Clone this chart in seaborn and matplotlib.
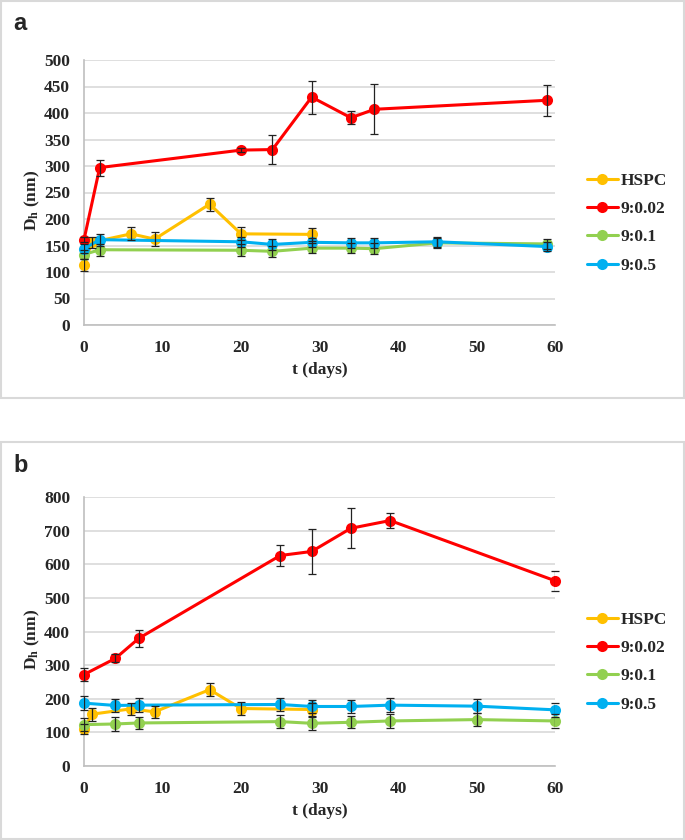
import matplotlib
matplotlib.use("Agg")
import matplotlib.pyplot as plt
import seaborn as sns
from matplotlib.patches import Rectangle
from matplotlib.lines import Line2D

# series names and colours
labels = ["HSPC", "9:0.02", "9:0.1", "9:0.5"]
colors = ["#FFC000", "#FF0000", "#92D050", "#00B0F0"]

# panel a - days, mean Dh, error
a_hspc_t = [0, 1, 6, 9, 16, 20, 29]
a_hspc_y = [113, 156, 172, 162, 228, 172, 171]
a_hspc_e = [12, 10, 12, 13, 12, 12, 12]

a_002_t = [0, 2, 20, 24, 29, 34, 37, 59]
a_002_y = [161, 297, 330, 331, 430, 391, 407, 424]
a_002_e = [5, 15, 4, 27, 31, 12, 47, 29]

a_01_t = [0, 2, 20, 24, 29, 34, 37, 45, 59]
a_01_y = [133, 142, 141, 139, 145, 145, 144, 155, 153]
a_01_e = [8, 11, 11, 10, 10, 10, 10, 9, 10]

a_05_t = [0, 2, 20, 24, 29, 34, 37, 45, 59]
a_05_y = [144, 161, 157, 152, 156, 155, 155, 157, 148]
a_05_e = [8, 11, 9, 10, 9, 10, 10, 9, 9]

# panel b
b_hspc_t = [0, 1, 6, 9, 16, 20, 29]
b_hspc_y = [110, 154, 170, 161, 227, 171, 168]
b_hspc_e = [15, 19, 17, 17, 20, 18, 18]

b_002_t = [0, 4, 7, 25, 29, 34, 39, 60]
b_002_y = [272, 320, 380, 626, 638, 707, 730, 551]
b_002_e = [18, 12, 25, 31, 66, 59, 22, 30]

b_01_t = [0, 4, 7, 25, 29, 34, 39, 50, 60]
b_01_y = [123, 125, 128, 132, 127, 130, 134, 138, 134]
b_01_e = [20, 20, 18, 20, 20, 18, 20, 20, 20]

b_05_t = [0, 4, 7, 25, 29, 34, 39, 50, 60]
b_05_y = [187, 180, 181, 183, 177, 177, 181, 178, 167]
b_05_e = [20, 20, 20, 20, 20, 20, 20, 20, 20]

panel_a = [(a_hspc_t, a_hspc_y, a_hspc_e), (a_002_t, a_002_y, a_002_e),
           (a_01_t, a_01_y, a_01_e), (a_05_t, a_05_y, a_05_e)]
panel_b = [(b_hspc_t, b_hspc_y, b_hspc_e), (b_002_t, b_002_y, b_002_e),
           (b_01_t, b_01_y, b_01_e), (b_05_t, b_05_y, b_05_e)]

sns.set_style("white")
plt.rcParams["font.family"] = ["Liberation Serif", "DejaVu Serif"]
plt.rcParams["font.weight"] = "bold"
plt.rcParams["mathtext.fontset"] = "custom"
plt.rcParams["mathtext.bf"] = "Liberation Serif:bold"
plt.rcParams["mathtext.rm"] = "Liberation Serif:bold"

fig = plt.figure(figsize=(6.85, 8.4), dpi=100)

# panel borders
for y0 in [442 / 840, 1 / 840]:
    fig.patches.append(Rectangle((0.5 / 685, y0), 683 / 685, 397 / 840, transform=fig.transFigure,
                                 fill=False, edgecolor="#d9d9d9", linewidth=1.5))

ax_a = fig.add_axes([84 / 685, 515 / 840, 471 / 685, 265 / 840])
ax_b = fig.add_axes([84 / 685, 74 / 840, 471 / 685, 269 / 840])


def draw(ax, series, ymax, ystep):
    for (t, y, e), c, lab in zip(series, colors, labels):
        sns.lineplot(x=t, y=y, ax=ax, color=c, marker="o", markersize=8, markeredgewidth=0,
                     linewidth=2.2, sort=False, estimator=None, label=lab, legend=False, zorder=3)
        ax.errorbar(t, y, yerr=e, fmt="none", ecolor="#222222", elinewidth=0.9, capsize=3,
                    capthick=0.9, zorder=4)
    ax.set_xlim(0, 60)
    ax.set_ylim(0, ymax)
    ax.set_xticks(range(0, 61, 10))
    ax.set_yticks(range(0, ymax + 1, ystep))
    ax.yaxis.grid(True, color="#d9d9d9", linewidth=1.2)
    ax.xaxis.grid(False)
    ax.set_axisbelow(True)
    for s in ["top", "right"]:
        ax.spines[s].set_visible(False)
    for s in ["left", "bottom"]:
        ax.spines[s].set_color("#bfbfbf")
        ax.spines[s].set_linewidth(1.2)
    ax.tick_params(axis="y", length=0, labelsize=12.5, pad=10)
    ax.tick_params(axis="x", length=0, labelsize=12.5, pad=11)
    for lbl in ax.get_xticklabels() + ax.get_yticklabels():
        lbl.set_fontweight("bold")
    ax.set_xlabel("t (days)", fontsize=12.5, fontweight="bold", labelpad=4)
    ax.set_ylabel(r"$\mathbf{D_h}$ (nm)", fontsize=12.5, fontweight="bold")
    ax.yaxis.set_label_coords(-0.09, 0.47)
    for line in ax.lines:
        line.set_clip_on(False)


draw(ax_a, panel_a, 500, 50)
draw(ax_b, panel_b, 800, 100)

handles = [Line2D([0], [0], color=c, marker="o", markersize=8, markeredgewidth=0, linewidth=2.2)
           for c in colors]
for top in [157, 596]:
    fig.legend(handles, labels, loc="upper left", bbox_to_anchor=(571 / 685, 1 - top / 840),
               frameon=False, handlelength=1.8, handletextpad=0.15, labelspacing=0.7,
               prop={"weight": "bold", "size": 12.5})

fig.text(13 / 685, 1 - 30 / 840, "a", fontsize=17, fontweight="bold", family="Liberation Sans")
fig.text(13 / 685, 1 - 472 / 840, "b", fontsize=17, fontweight="bold", family="Liberation Sans")

fig.savefig("out.png", dpi=100)
